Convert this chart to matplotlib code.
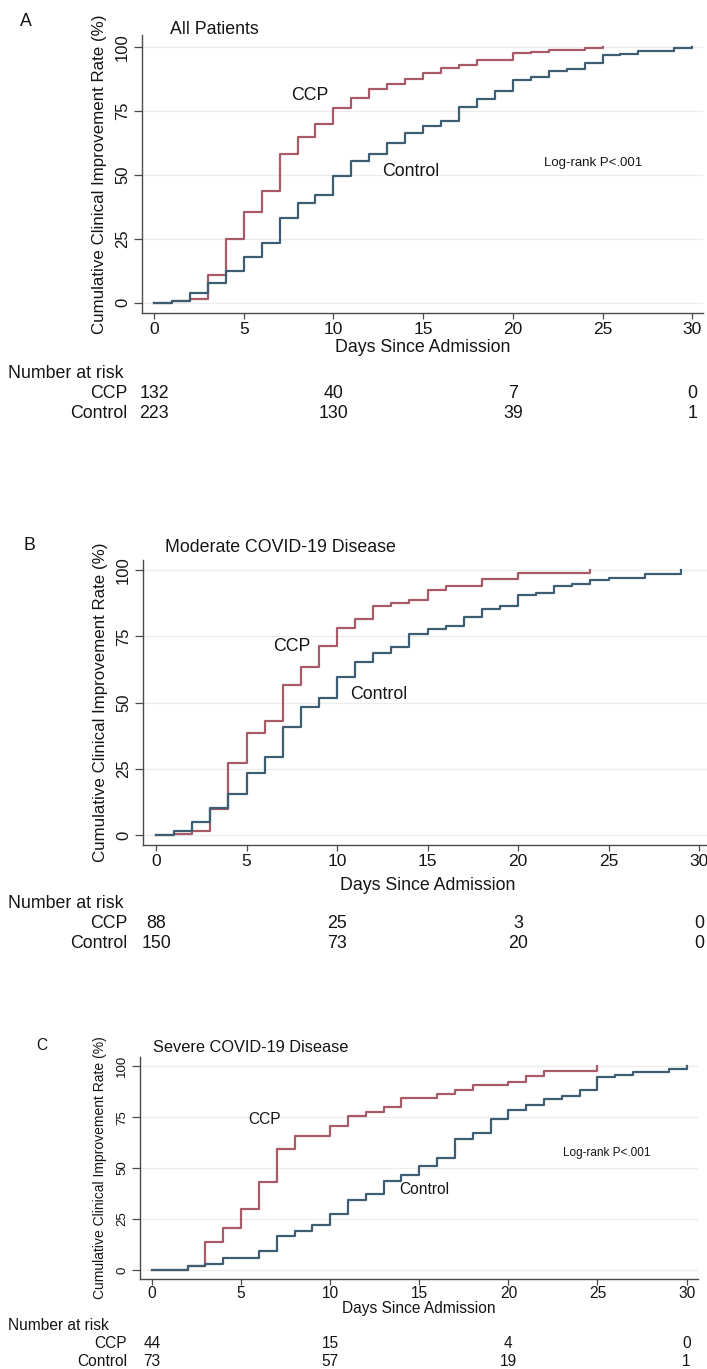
import matplotlib
matplotlib.use("Agg")
import matplotlib.pyplot as plt
from matplotlib.transforms import blended_transform_factory

plt.rcParams['font.family'] = ['Liberation Sans', 'DejaVu Sans']

# ---------------- data ----------------
days_a_ccp = list(range(0, 26))
vals_a_ccp = [0, 0.7, 1.3, 10.8, 25.1, 35.5, 43.6, 58.0, 64.8, 70.0, 75.9, 79.8, 83.7,
              85.3, 87.4, 89.8, 91.8, 92.8, 95.0, 95.0, 97.4, 98.0, 98.7, 98.7, 99.6, 100]
days_a_ctl = list(range(0, 31))
vals_a_ctl = [0, 0.7, 3.9, 7.8, 12.4, 17.8, 23.2, 33.0, 39.0, 42.0, 49.6, 55.5, 58.3,
              62.5, 66.4, 69.0, 71.1, 76.3, 79.6, 82.8, 87.0, 88.3, 90.6, 91.5, 93.7,
              96.7, 97.1, 98.4, 98.4, 99.7, 100]

days_b_ccp = list(range(0, 25))
vals_b_ccp = [0, 0.5, 1.3, 9.7, 27.3, 38.6, 43.0, 56.6, 63.5, 71.3, 78.2, 81.5, 86.3,
              87.5, 88.8, 92.3, 94.1, 94.1, 96.5, 96.5, 98.8, 98.8, 98.8, 98.8, 100]
days_b_ctl = list(range(0, 30))
vals_b_ctl = [0, 1.3, 4.7, 10.0, 15.5, 23.5, 29.3, 40.9, 48.2, 51.6, 59.7, 65.2, 68.8,
              70.8, 75.8, 77.8, 79.0, 82.3, 85.3, 86.5, 90.6, 91.3, 93.8, 94.8, 96.3,
              96.9, 96.9, 98.5, 98.5, 100]

days_c_ccp = list(range(0, 26))
vals_c_ccp = [0, 0, 2.0, 13.9, 20.8, 30.0, 43.4, 59.5, 66.0, 66.0, 70.5, 75.4, 77.4,
              80.0, 84.6, 84.6, 86.2, 88.2, 90.7, 90.7, 92.3, 95.2, 97.5, 97.5, 97.5, 100]
days_c_ctl = list(range(0, 31))
vals_c_ctl = [0, 0, 1.7, 2.8, 5.7, 5.7, 9.5, 16.4, 19.3, 22.1, 27.4, 34.4, 37.4, 43.9,
              46.7, 50.8, 54.9, 64.3, 67.2, 74.1, 78.4, 81.0, 83.8, 85.2, 88.2, 94.8,
              95.9, 97.2, 97.2, 98.9, 100]

risk_days = [0, 10, 20, 30]
risk_a_ccp = [132, 40, 7, 0]
risk_a_ctl = [223, 130, 39, 1]
risk_b_ccp = [88, 25, 3, 0]
risk_b_ctl = [150, 73, 20, 0]
risk_c_ccp = [44, 15, 4, 0]
risk_c_ctl = [73, 57, 19, 1]

y_ticks = [0, 25, 50, 75, 100]
x_ticks = [0, 5, 10, 15, 20, 25, 30]

# ---------------- figure ----------------
W, H = 707, 1369
fig = plt.figure(figsize=(W / 100, H / 100), dpi=100)

CCP_COL = '#a85a67'
CTL_COL = '#3d5e72'
SPINE = '#4a4a4a'
TXT = '#151515'


def fx(px):
    return px / W


def fy(py):
    return 1 - py / H


def panel(rect, xlim, ylim, ccp, ctl, risk_ccp, risk_ctl, letter, letter_xy,
          title, title_xy, ccp_lab, ctl_lab, logrank, rows_y, fs, xtfs, ytfs,
          yfs, ylab_x, title_fs, lrfs, xpad=2.0, xlen=4.5):
    l, t, r, b = rect
    ax = fig.add_axes([fx(l), fy(b), fx(r) - fx(l), fy(t) - fy(b)])
    ax.set_xlim(*xlim)
    ax.set_ylim(*ylim)
    for y in y_ticks:
        ax.axhline(y, color='#ececec', lw=0.9, zorder=0)
    ax.step(ccp[0], ccp[1], where='post', color=CCP_COL, lw=1.6, zorder=3)
    ax.step(ctl[0], ctl[1], where='post', color=CTL_COL, lw=1.6, zorder=3)
    for s in ['top', 'right']:
        ax.spines[s].set_visible(False)
    for s in ['left', 'bottom']:
        ax.spines[s].set_color(SPINE)
        ax.spines[s].set_linewidth(1.0)
    ax.set_xticks(x_ticks)
    ax.set_yticks(y_ticks)
    ax.tick_params(axis='x', length=xlen, width=0.9, color=SPINE, pad=xpad,
                   labelsize=xtfs, labelcolor=TXT)
    ax.tick_params(axis='y', length=6, width=0.9, color=SPINE, pad=2.5,
                   labelsize=ytfs, labelcolor=TXT, labelrotation=90)
    for lab in ax.get_yticklabels():
        lab.set_va('center')
    ax.text(ccp_lab[0], ccp_lab[1], 'CCP', fontsize=fs, ha='center',
            va='center', color=TXT)
    ax.text(ctl_lab[0], ctl_lab[1], 'Control', fontsize=fs, ha='center',
            va='center', color=TXT)
    if logrank is not None:
        ax.text(logrank[0], logrank[1], 'Log-rank P<.001', fontsize=lrfs,
                ha='center', va='center', color=TXT)
    fig.text(fx(letter_xy[0]), fy(letter_xy[1]), letter, fontsize=fs,
             ha='center', va='center', color=TXT)
    fig.text(fx(title_xy[0]), fy(title_xy[1]), title, fontsize=title_fs,
             ha='left', va='center', color=TXT)
    fig.text(fx(ylab_x), fy((t + b) / 2), 'Cumulative Clinical Improvement Rate (%)',
             fontsize=yfs, rotation=90, ha='center', va='center', color=TXT)
    tr = blended_transform_factory(ax.transData, fig.transFigure)
    ax.text(15, fy(rows_y[0]), 'Days Since Admission', transform=tr,
            fontsize=fs, ha='center', va='center', color=TXT)
    fig.text(fx(8), fy(rows_y[1]), 'Number at risk', fontsize=fs,
             ha='left', va='center', color=TXT)
    fig.text(fx(127), fy(rows_y[2]), 'CCP', fontsize=fs, ha='right',
             va='center', color=TXT)
    fig.text(fx(127), fy(rows_y[3]), 'Control', fontsize=fs, ha='right',
             va='center', color=TXT)
    for d, v1, v2 in zip(risk_days, risk_ccp, risk_ctl):
        ax.text(d, fy(rows_y[2]), str(v1), transform=tr, fontsize=fs,
                ha='center', va='center', clip_on=False, color=TXT)
        ax.text(d, fy(rows_y[3]), str(v2), transform=tr, fontsize=fs,
                ha='center', va='center', clip_on=False, color=TXT)
    return ax


# Panel A
panel(rect=(142, 35, 703, 313), xlim=(-0.67, 30.6), ylim=(-4.0, 104.6),
      ccp=(days_a_ccp, vals_a_ccp), ctl=(days_a_ctl, vals_a_ctl),
      risk_ccp=risk_a_ccp, risk_ctl=risk_a_ctl,
      letter='A', letter_xy=(26, 21), title='All Patients', title_xy=(170, 30),
      ccp_lab=(8.7, 81), ctl_lab=(14.3, 51.4), logrank=(24.5, 54.6),
      rows_y=(348, 374, 394, 414), fs=12.8, xtfs=12.5, ytfs=12, yfs=12.2,
      ylab_x=100, title_fs=12.8, lrfs=9.5)

# Panel B
panel(rect=(143, 560, 707, 845), xlim=(-0.72, 30.44), ylim=(-3.8, 103.8),
      ccp=(days_b_ccp, vals_b_ccp), ctl=(days_b_ctl, vals_b_ctl),
      risk_ccp=risk_b_ccp, risk_ctl=risk_b_ctl,
      letter='B', letter_xy=(29, 546), title='Moderate COVID-19 Disease',
      title_xy=(165, 547),
      ccp_lab=(7.5, 71), ctl_lab=(12.3, 53.2), logrank=None,
      rows_y=(885, 904, 924, 943), fs=12.8, xtfs=12.5, ytfs=12, yfs=12.2,
      ylab_x=101, title_fs=12.8, lrfs=9.5)

# Panel C
panel(rect=(140, 1057, 698, 1279), xlim=(-0.67, 30.64), ylim=(-4.5, 104.6),
      ccp=(days_c_ccp, vals_c_ccp), ctl=(days_c_ctl, vals_c_ctl),
      risk_ccp=risk_c_ccp, risk_ctl=risk_c_ctl,
      letter='C', letter_xy=(42, 1046), title='Severe COVID-19 Disease',
      title_xy=(153, 1048),
      ccp_lab=(6.3, 74), ctl_lab=(15.3, 39.3), logrank=(25.5, 57.6),
      rows_y=(1308.5, 1326, 1344, 1361), fs=11.2, xtfs=11.2, ytfs=9.5, yfs=10,
      ylab_x=100, title_fs=11.8, lrfs=8.5, xpad=1.0, xlen=4.0)

fig.savefig('out.png', dpi=100, facecolor='white')
